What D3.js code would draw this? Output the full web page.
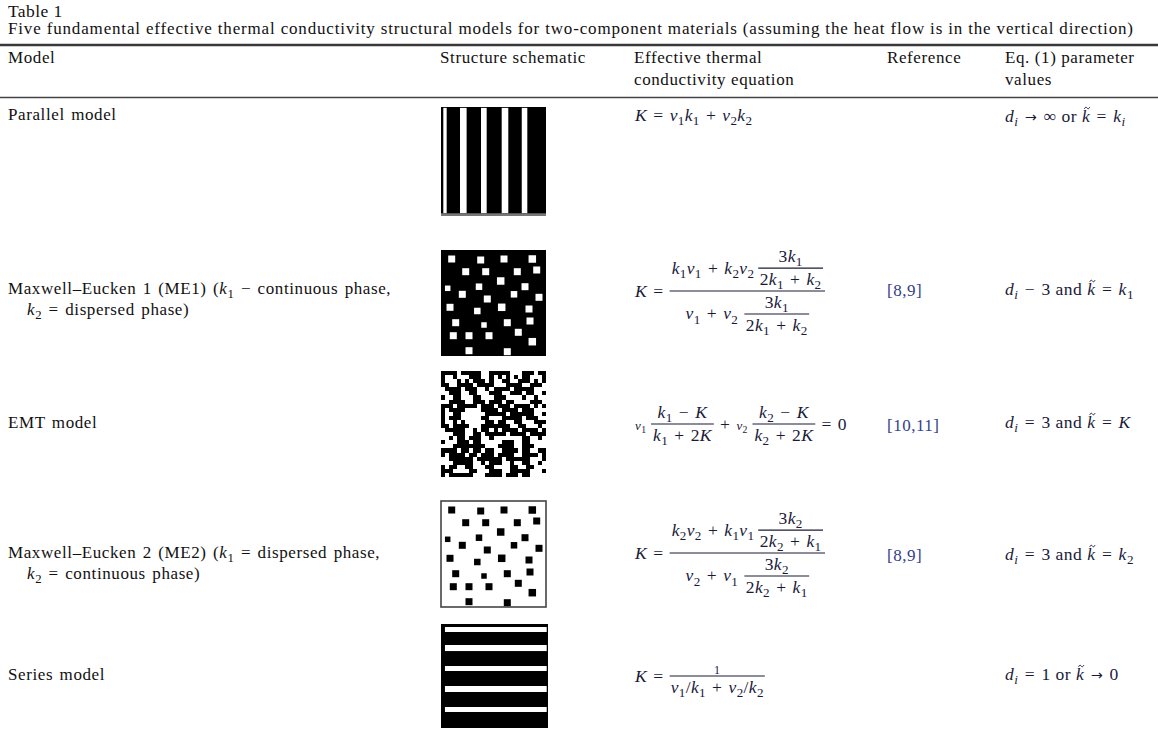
<!DOCTYPE html>
<html><head><meta charset="utf-8">
<script src="https://cdn.jsdelivr.net/npm/d3@7"></script>
<style>
html,body{margin:0;padding:0;background:#fff;}
svg text{white-space:pre;}
</style></head><body>
<svg id="c" width="1158" height="738"></svg>
<script>
// ---------------- data ----------------
const tableTitle = "Table 1";
const caption = "Five fundamental effective thermal conductivity structural models for two-component materials (assuming the heat flow is in the vertical direction)";
const columnHeaders = [["Model"], ["Structure schematic"], ["Effective thermal", "conductivity equation"], ["Reference"], ["Eq. (1) parameter", "values"]];
const modelNames = [
  ["Parallel model"],
  ["Maxwell–Eucken 1 (ME1) ($k_1$ − continuous phase,", "$k_2$ = dispersed phase)"],
  ["EMT model"],
  ["Maxwell–Eucken 2 (ME2) ($k_1$ = dispersed phase,", "$k_2$ = continuous phase)"],
  ["Series model"]
];
const references = ["", "[8,9]", "[10,11]", "[8,9]", ""];
const parameterValues = [
  "$d_i → ∞$ or $~k = k_i$",
  "$d_i − 3$ and $~k = k_1$",
  "$d_i = 3$ and $~k = K$",
  "$d_i = 3$ and $~k = k_2$",
  "$d_i = 1$ or $~k → 0$"
];
const schematicTypes = ["vstripes", "dotsDark", "emt", "dotsLight", "hstripes"];
// stripe bands, percent of box
const parallelStripes = [[2.2, 5.4], [18.1, 24.4], [38.1, 43.5], [57.8, 64.1], [76.9, 82.2]];
const seriesStripes = [[2.9, 7.7], [20.2, 26.0], [40.4, 45.2], [59.6, 65.4], [79.8, 84.6]];
// dispersed inclusions (Maxwell–Eucken schematics)
const inclusionX = [10.7, 39.7, 63, 91.3, 24.7, 44.7, 76.3, 95.7, 6.7, 38, 59.7, 84, 21.3, 46.3, 73, 98, 9, 36.3, 60.7, 88, 14.7, 43, 66.3, 89, 12.3, 28, 48, 77.3, 91.3, 28, 66.3];
const inclusionY = [9, 10, 9, 9, 21.7, 21.7, 21.7, 20, 38.3, 36.7, 31, 36.7, 44.3, 49, 44.3, 47.3, 57.3, 61, 57.3, 59, 72.7, 75, 72.7, 71, 85.7, 85.7, 85.7, 82.3, 91.7, 100.7, 101.7];
const inclusionSize = [7, 7, 7, 7.5, 7, 7, 7, 7, 5.5, 6.5, 7.5, 7, 7, 7, 6.5, 7, 7, 6.5, 7.5, 7, 7, 5.5, 7, 7, 7, 7, 7, 7, 7.5, 7, 7];
// EMT random-mixture pixel map (1 = white phase)
const emtGrid = [
  "00001000001100000111000100",
  "01101110001101010101001110",
  "01110101000101100110001010",
  "00110000100001110000110001",
  "10000100011010000100000111",
  "11000110011100011000100110",
  "01100111001110001111011011",
  "11000011000100010011110001",
  "00010000010001000100001010",
  "01000011110000100001000111",
  "01100111111000001000000110",
  "01000111110011100000100011",
  "01101011111001001100111000",
  "00100001110000000110011101",
  "10000011010010100001000010",
  "11100011001000001000010000",
  "11010010001101111111001101",
  "01110001001111100011001111",
  "11100000000111000011000111",
  "00001001001001100001001100",
  "01000010010001000011000010",
  "11000000100000010000001110",
  "11100000110100011011001101",
  "01001100111001111001100111",
  "00011110011100011000001110",
  "01000000111000010001001111"
];
// equation pieces
const eqParallel = "$K = v_1k_1 + v_2k_2$";
const eqME1 = {lhs: "$K = $", numA: "$k_1v_1 + k_2v_2$\u2009", denA: "$v_1 + v_2$\u2004", fNum: "$3k_1$", fDen: "$2k_1 + k_2$"};
const eqEMT = {c1: "$v_1$\u2004", n1: "$k_1 − K$", d1: "$k_1 + 2K$", plus: "\u2004+\u2004", c2: "$v_2$\u2004", n2: "$k_2 − K$", d2: "$k_2 + 2K$", rhs: "$ = 0$"};
const eqME2 = {lhs: "$K = $", numA: "$k_2v_2 + k_1v_1$\u2009", denA: "$v_2 + v_1$\u2004", fNum: "$3k_2$", fDen: "$2k_2 + k_1$"};
const eqSeries = {lhs: "$K = $", num: "1", den: "$v_1/k_1 + v_2/k_2$"};

// ---------------- drawing ----------------
const FONT = "'Liberation Serif','Times New Roman',serif";
const TXT = "#111", MATH = "#1a1a38", REF = "#33408a";
const MS = 17.5; // math size
const svg = d3.select("#c").attr("font-family", FONT);
svg.append("rect").attr("width", 1158).attr("height", 738).attr("fill", "#fff");
const defs = svg.append("defs");
defs.append("filter").attr("id", "soft").attr("x", "-5%").attr("y", "-5%").attr("width", "110%").attr("height", "110%")
  .append("feGaussianBlur").attr("stdDeviation", 0.55);
const meas = svg.append("g").attr("visibility", "hidden").attr("letter-spacing", 0.35);

function rich(textSel, str, size, accents) {
  const parts = str.split("$");
  let shift = 0, count = 0;
  const tildes = [];
  function add(t, o = {}) {
    const target = o.sub ? size * 0.25 : 0;
    const dy = target - shift; shift = target;
    const sp = textSel.append("tspan")
      .attr("font-style", o.italic ? "italic" : "normal")
      .attr("font-size", o.sub ? size * 0.75 : (o.fs || size))
      .text(t);
    if (o.ff) sp.attr("font-family", o.ff);
    if (dy) sp.attr("dy", dy);
    count += t.length;
  }
  parts.forEach((p, idx) => {
    if (!p) return;
    if (idx % 2 === 0) { add(p); return; }
    const s = p.replace(/ ([+=−→]) /g, "\u2004$1\u2004");
    for (let i = 0; i < s.length; i++) {
      const ch = s[i];
      if (ch === "_") { const c = s[++i]; add(c, {italic: /[A-Za-z]/.test(c), sub: true}); continue; }
      if (ch === "~") { const c = s[++i]; tildes.push(count); add(c, {italic: true}); continue; }
      if (ch === "→") { add(ch, {ff: "'DejaVu Sans'", fs: size * 0.82}); continue; }
      add(ch, {italic: /[A-Za-z]/.test(ch)});
    }
  });
  if (accents && tildes.length) {
    const node = textSel.node();
    const y0 = +textSel.attr("y");
    const parent = d3.select(node.parentNode);
    tildes.forEach(ci => {
      const ext = node.getExtentOfChar(ci);
      const cx = ext.x + ext.width * 0.62, cy = y0 - 0.8 * size;
      parent.append("path")
        .attr("d", `M${cx - 2.7},${cy + 0.9} C${cx - 1.7},${cy - 1.3} ${cx - 0.6},${cy - 1.1} ${cx},${cy} C${cx + 0.6},${cy + 1.1} ${cx + 1.7},${cy + 1.3} ${cx + 2.7},${cy - 0.9}`)
        .attr("fill", "none").attr("stroke", MATH).attr("stroke-width", 0.9);
    });
  }
  return textSel;
}

// header block
svg.append("text").attr("x", 8).attr("y", 17).attr("font-size", 17.5).attr("letter-spacing", 0.4)
  .attr("fill", TXT).text(tableTitle);
svg.append("text").attr("x", 8).attr("y", 34).attr("font-size", 17).attr("fill", TXT)
  .attr("textLength", 1125).attr("lengthAdjust", "spacing").text(caption);
svg.append("line").attr("x1", 0).attr("x2", 1158).attr("y1", 45).attr("y2", 45).attr("stroke", "#3a3a3a").attr("stroke-width", 2.5);
svg.append("line").attr("x1", 0).attr("x2", 1158).attr("y1", 97.5).attr("y2", 97.5).attr("stroke", "#444").attr("stroke-width", 1.4);

const colX = [8, 440, 634, 887, 1005];
const headerY = [63, 85];
columnHeaders.forEach((lines, i) => lines.forEach((ln, j) => {
  svg.append("text").attr("x", colX[i]).attr("y", headerY[j]).attr("font-size", 17)
    .attr("letter-spacing", 0.6).attr("fill", TXT).text(ln);
}));

// row labels, references, parameter values
const rowY = [120, 294, 428, 558, 680];
const refY = [0, 296, 431, 561, 0];
const parY = [122, 295, 428, 560, 680];
modelNames.forEach((lines, i) => lines.forEach((ln, j) => {
  rich(svg.append("text").attr("x", j ? 27 : 8).attr("y", rowY[i] + j * 21)
    .attr("letter-spacing", 0.6).attr("word-spacing", 1.6).attr("fill", TXT), ln, 17);
}));
references.forEach((r, i) => {
  if (!r) return;
  svg.append("text").attr("x", 887).attr("y", refY[i]).attr("font-size", 17)
    .attr("letter-spacing", 0.5).attr("fill", REF).text(r);
});
const parG = svg.append("g");
parameterValues.forEach((p, i) => {
  rich(parG.append("text").attr("x", 1005).attr("y", parY[i]).attr("letter-spacing", 0.5).attr("fill", MATH), p, 17.5, true);
});

// schematics
const boxes = [[441, 107, 105, 109], [441, 250, 105, 106], [441, 371, 105, 106], [441, 501, 105, 106], [441, 624, 107, 104]];
schematicTypes.forEach((type, i) => {
  const b = boxes[i];
  const g = svg.append("g").attr("filter", "url(#soft)");
  if (type === "vstripes" || type === "hstripes") {
    const x = d3.scaleLinear().domain([0, 100]).range([b[0], b[0] + b[2]]);
    const y = d3.scaleLinear().domain([0, 100]).range([b[1], b[1] + b[3]]);
    g.append("rect").attr("x", x(0)).attr("y", y(0)).attr("width", x(100) - x(0)).attr("height", y(100) - y(0)).attr("fill", "#000");
    const stripes = type === "vstripes" ? parallelStripes : seriesStripes;
    g.selectAll("rect.s").data(stripes).join("rect").attr("class", "s").attr("fill", "#fff")
      .attr("x", d => type === "vstripes" ? x(d[0]) : x(3.7))
      .attr("width", d => type === "vstripes" ? x(d[1]) - x(d[0]) : x(98.8) - x(3.7))
      .attr("y", d => type === "vstripes" ? y(0.8) : y(d[0]))
      .attr("height", d => type === "vstripes" ? y(97.5) - y(0.8) : y(d[1]) - y(d[0]));
    if (type === "vstripes") {
      g.append("rect").attr("x", x(0)).attr("y", y(97.5)).attr("width", x(100) - x(0)).attr("height", y(100) - y(97.5)).attr("fill", "#777");
    }
  } else if (type === "dotsDark" || type === "dotsLight") {
    const x = d3.scaleLinear().domain([0, 105]).range([b[0], b[0] + b[2]]);
    const y = d3.scaleLinear().domain([0, 106]).range([b[1], b[1] + b[3]]);
    const dark = type === "dotsDark";
    g.append("rect").attr("x", x(0)).attr("y", y(0)).attr("width", x(105) - x(0)).attr("height", y(106) - y(0))
      .attr("fill", dark ? "#000" : "#fff").attr("stroke", dark ? "none" : "#444").attr("stroke-width", 1.6);
    g.selectAll("rect.p").data(inclusionX.map((v, k) => ({x: v, y: inclusionY[k], s: inclusionSize[k]})))
      .join("rect").attr("class", "p").attr("fill", dark ? "#fff" : "#000")
      .attr("x", d => x(d.x - d.s / 2)).attr("y", d => y(d.y - d.s / 2))
      .attr("width", d => x(d.s) - x(0)).attr("height", d => y(d.s) - y(0));
  } else {
    const n = emtGrid.length;
    const bx = d3.scaleBand().domain(d3.range(emtGrid[0].length)).range([b[0], b[0] + b[2]]);
    const by = d3.scaleBand().domain(d3.range(n)).range([b[1], b[1] + b[3]]);
    g.append("rect").attr("x", b[0]).attr("y", b[1]).attr("width", b[2]).attr("height", b[3]).attr("fill", "#000");
    const cells = [];
    emtGrid.forEach((row, r) => row.split("").forEach((c, k) => { if (c === "1") cells.push({r, k}); }));
    g.selectAll("rect.c").data(cells).join("rect").attr("class", "c").attr("fill", "#fff")
      .attr("shape-rendering", "crispEdges")
      .attr("x", d => bx(d.k)).attr("y", d => by(d.r)).attr("width", bx.bandwidth()).attr("height", by.bandwidth());
  }
});

// ---- equation layout engine ----
const AX = 5.5;
const T = (str, size = MS) => ({type: "t", str, size});
const F = (num, den, o = {}) => Object.assign({type: "f", num, den}, o);
const H = (...items) => ({type: "h", items});
function lay(n) {
  if (n.type === "t") {
    const t = rich(meas.append("text"), n.str, n.size);
    n.w = t.node().getComputedTextLength(); t.remove();
    n.asc = n.size * 0.7; n.desc = n.str.includes("_") ? n.size * 0.27 : n.size * 0.05;
  } else if (n.type === "f") {
    lay(n.num); lay(n.den);
    n.pad = n.pad ?? 2; n.gn = n.gn ?? 1.5; n.gd = n.gd ?? 4.5;
    n.w = Math.max(n.num.w, n.den.w) + 2 * n.pad;
    n.asc = AX + n.gn + n.num.desc + n.num.asc;
    n.desc = n.gd + n.den.asc + n.den.desc - AX;
  } else {
    n.items.forEach(lay);
    n.w = d3.sum(n.items, d => d.w);
    n.asc = d3.max(n.items, d => d.asc); n.desc = d3.max(n.items, d => d.desc);
  }
}
function draw(n, g, x, y) {
  if (n.type === "t") {
    rich(g.append("text").attr("x", x).attr("y", y), n.str, n.size);
  } else if (n.type === "f") {
    const bar = y - AX;
    g.append("line").attr("x1", x).attr("x2", x + n.w).attr("y1", bar).attr("y2", bar)
      .attr("stroke", MATH).attr("stroke-width", 1.2);
    draw(n.num, g, x + (n.w - n.num.w) / 2, bar - n.gn - n.num.desc);
    draw(n.den, g, x + (n.w - n.den.w) / 2, bar + n.gd + n.den.asc);
  } else {
    let cx = x;
    n.items.forEach(it => { draw(it, g, cx, y); cx += it.w; });
  }
}
function me(e) {
  return H(T(e.lhs),
    F(H(T(e.numA), F(T(e.fNum), T(e.fDen), {pad: 1.5})),
      H(T(e.denA), F(T(e.fNum), T(e.fDen), {pad: 1.5})), {pad: 2}));
}
const equations = [
  T(eqParallel),
  me(eqME1),
  H(T(eqEMT.c1, 13), F(T(eqEMT.n1), T(eqEMT.d1)), T(eqEMT.plus), T(eqEMT.c2, 13), F(T(eqEMT.n2), T(eqEMT.d2)), T(eqEMT.rhs)),
  me(eqME2),
  H(T(eqSeries.lhs), F(T(eqSeries.num, 12), T(eqSeries.den), {pad: 1}))
];
const eqY = [121, 296.5, 429.5, 558.5, 681.5];
const eqG = svg.append("g").attr("fill", MATH).attr("letter-spacing", 0.35);
equations.forEach((e, i) => { lay(e); draw(e, eqG, 635, eqY[i]); });
</script>
</body></html>
